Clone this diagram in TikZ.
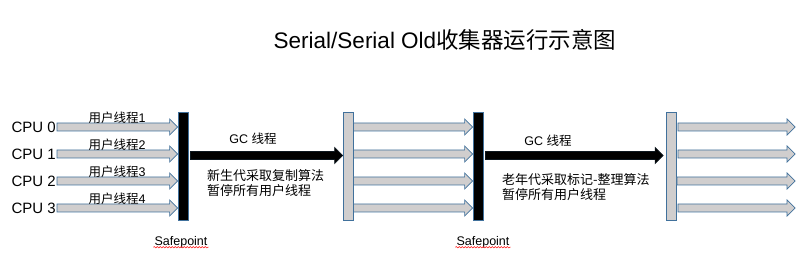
\documentclass[tikz,border=0pt]{standalone}
\usepackage{fontspec}
\setmainfont{Liberation Sans}
\newfontfamily\cjk{Noto Sans CJK SC}
\usetikzlibrary{positioning}
\usetikzlibrary{calc}
\usetikzlibrary{decorations.pathmorphing}
\definecolor{mgray}{RGB}{208, 206, 206}
\definecolor{mblue}{RGB}{65, 113, 156}
\tikzset{sbar/.style = {draw = mblue, line width = 0.8pt, minimum width = 10pt, minimum height = 108pt, inner sep = 0}}
\tikzset{fatarr/.style = {draw = mblue, fill = mgray, line width = 0.7pt, line join = miter}}
\tikzset{cpu/.style = {anchor = east, inner sep = 1pt, font = \fontsize{15}{17}\selectfont}}
\tikzset{lbl/.style = {inner sep = 1pt, font = \fontsize{12.5}{15.5}\selectfont}}
\tikzset{note/.style = {inner sep = 1pt, anchor = west, align = left, font = \fontsize{13}{15.5}\selectfont}}
\tikzset{wavy/.style = {draw = red, line width = 0.5pt, decorate, decoration = {snake, amplitude = 0.7pt, segment length = 3pt}}}
\newcommand{\fatarrow}[3][]{\draw[fatarr, #1] let \p1 = #2, \p2 = #3 in
  (\x1, \y1 + 4pt) -- (\x2 - 8pt, \y1 + 4pt) -- (\x2 - 8pt, \y1 + 8pt) -- (\x2, \y1)
  -- (\x2 - 8pt, \y1 - 8pt) -- (\x2 - 8pt, \y1 - 4pt) -- (\x1, \y1 - 4pt) -- cycle;}

\begin{document}
\begin{tikzpicture}[x = 1pt, y = -1pt]
      \useasboundingbox (0, 0) rectangle (811, 264);
      \node (title) at (445, 40) {\fontsize{22.5}{26}\selectfont Serial/Serial Old{\cjk 收集器运行示意图}};
      \node [cpu] (cpu0) at (57, 127) {CPU 0};
      \node [cpu] (cpu1) at (57, 154) {CPU 1};
      \node [cpu] (cpu2) at (57, 181) {CPU 2};
      \node [cpu] (cpu3) at (57, 208) {CPU 3};
      \node [sbar, fill = black] (sp1) at (183, 166) {};
      \node [sbar, fill = mgray] (bar2) at (348, 166) {};
      \node [sbar, fill = black] (sp2) at (478, 166) {};
      \node [sbar, fill = mgray] (bar4) at (671.5, 166) {};
      \coordinate (tip) at (795, 0);
      \fatarrow{(cpu0.east)}{(sp1.west |- cpu0)}
      \fatarrow{(cpu1.east)}{(sp1.west |- cpu1)}
      \fatarrow{(cpu2.east)}{(sp1.west |- cpu2)}
      \fatarrow{(cpu3.east)}{(sp1.west |- cpu3)}
      \node [lbl] (u0) at (117, 118) {{\cjk 用户线程}1};
      \node [lbl] (u1) at (117, 145) {{\cjk 用户线程}2};
      \node [lbl] (u2) at (117, 172) {{\cjk 用户线程}3};
      \node [lbl] (u3) at (117, 199) {{\cjk 用户线程}4};
      \fatarrow[fill = black, draw = black!80!mblue]{([xshift = 2pt, yshift = -1.5pt] sp1.east |- cpu1)}{([yshift = -1.5pt] bar2.west |- cpu1)}
      \node [lbl] (gc1) at (253, 139) {GC {\cjk 线程}};
      \node [note] (txt1) at (206, 183) {\cjk 新生代采取复制算法\\ \cjk 暂停所有用户线程};
      \fatarrow{(bar2.east |- cpu0)}{(sp2.west |- cpu0)}
      \fatarrow{(bar2.east |- cpu1)}{(sp2.west |- cpu1)}
      \fatarrow{(bar2.east |- cpu2)}{(sp2.west |- cpu2)}
      \fatarrow{(bar2.east |- cpu3)}{(sp2.west |- cpu3)}
      \fatarrow[fill = black, draw = black!80!mblue]{([xshift = 2pt, yshift = -1.5pt] sp2.east |- cpu1)}{([xshift = -3pt, yshift = -1.5pt] bar4.west |- cpu1)}
      \node [lbl] (gc2) at (548, 141) {GC {\cjk 线程}};
      \node [note] (txt2) at (501, 187) {\cjk 老年代采取标记-整理算法\\ \cjk 暂停所有用户线程};
      \fatarrow{([xshift = 1pt] bar4.east |- cpu0)}{(tip |- cpu0)}
      \fatarrow{([xshift = 1pt] bar4.east |- cpu1)}{(tip |- cpu1)}
      \fatarrow{(bar4.east |- cpu2)}{(tip |- cpu2)}
      \fatarrow{([xshift = 1pt] bar4.east |- cpu3)}{(tip |- cpu3)}
      \node [lbl] (safe1) at (181, 242) {Safepoint};
      \node [lbl] (safe2) at (483, 242) {Safepoint};
      \draw [wavy] ([yshift = -2pt] safe1.base west) -- ([yshift = -2pt] safe1.base east);
      \draw [wavy] ([yshift = -2pt] safe2.base west) -- ([yshift = -2pt] safe2.base east);
    \end{tikzpicture}
\end{document}
